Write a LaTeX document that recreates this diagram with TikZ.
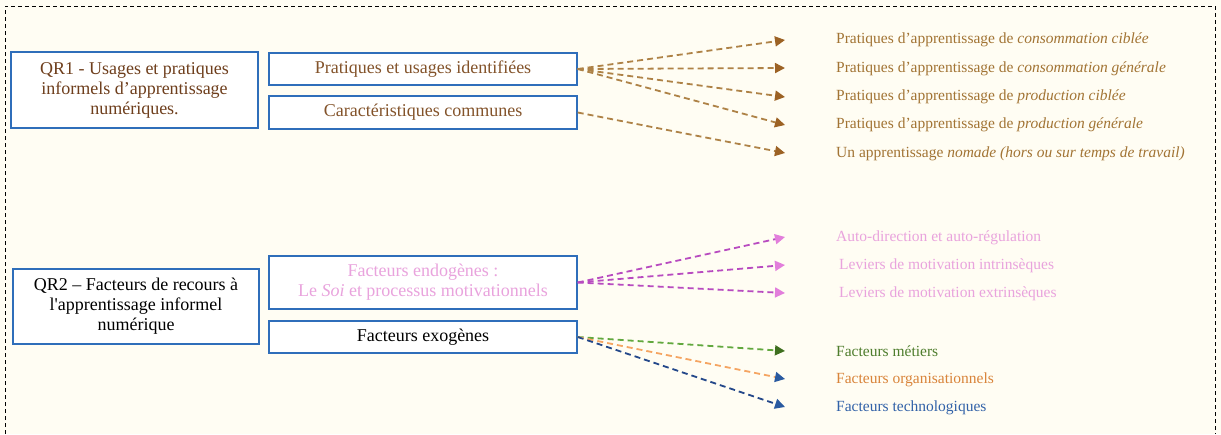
\documentclass[tikz,border=0pt]{standalone}
\usepackage{fontspec}
\setmainfont{Liberation Serif}
\newfontfamily\boxfont{Liberation Serif}
\usetikzlibrary{arrows.meta}
\definecolor{bg}{HTML}{FFFDF3}
\definecolor{boxblue}{HTML}{2F6EBA}
\definecolor{qrbrown}{HTML}{6E3E1C}
\definecolor{subbrown}{HTML}{83532A}
\definecolor{txtbrown}{HTML}{A27434}
\definecolor{linebrown}{HTML}{AE8246}
\definecolor{tipbrown}{HTML}{9C6224}
\definecolor{pinktxt}{HTML}{E9A3DD}
\definecolor{magline}{HTML}{B84BC0}
\definecolor{magtip}{HTML}{E27EDB}
\definecolor{greenline}{HTML}{62A83E}
\definecolor{greentip}{HTML}{3F6F1F}
\definecolor{greentxt}{HTML}{4E7D2C}
\definecolor{orangeline}{HTML}{F5A562}
\definecolor{orangetxt}{HTML}{D9843A}
\definecolor{blueline}{HTML}{24488A}
\definecolor{bluetip}{HTML}{2A5AA0}
\definecolor{bluetxt}{HTML}{3262A8}
\tikzset{
  boxnode/.style={draw=boxblue, line width=1.4pt, fill=white, inner sep=2pt,
    align=center, font=\boxfont\fontsize{18}{20}\selectfont},
  rtext/.style={anchor=west, inner sep=0pt, font=\fontsize{15.5}{18}\selectfont},
  conn/.style={dash pattern=on 6pt off 4pt, line width=1.8pt},
  tipof/.style={-{Triangle[length=10pt,width=10pt,color=#1]}}
}
\begin{document}
\begin{tikzpicture}[x=1pt,y=-1pt]
\useasboundingbox (0,0) rectangle (1221,434);
\fill[bg] (0,0) rectangle (1221,434);
\draw[black, dash pattern=on 4pt off 3pt, line width=0.8pt] (5,434) -- (5,6) -- (1215,6) -- (1215,434);

% left boxes
\node[boxnode, minimum width=247pt, minimum height=76pt, text=qrbrown] (qr1) at (134.5,90)
  {QR1 - Usages et pratiques\\informels d’apprentissage\\numériques.};
\node[boxnode, minimum width=308pt, minimum height=32pt, text=subbrown] (pu) at (423,69)
  {Pratiques et usages identifiées};
\node[boxnode, minimum width=308pt, minimum height=33pt, text=subbrown] (cc) at (423,112.5)
  {Caractéristiques communes};
\node[boxnode, minimum width=246pt, minimum height=75pt, text=black] (qr2) at (136,306.5)
  {QR2 – Facteurs de recours à\\l'apprentissage informel\\numérique};
\node[boxnode, minimum width=308pt, minimum height=53pt, text=pinktxt] (endo) at (423,282.5)
  {Facteurs endogènes :\\Le \textit{Soi} et processus motivationnels};
\node[boxnode, minimum width=308pt, minimum height=32pt, text=black] (exo) at (423,337)
  {Facteurs exogènes};

% right texts
\node[rtext, text=txtbrown] (r1) at (836,40) {Pratiques d’apprentissage de \textit{consommation ciblée}};
\node[rtext, text=txtbrown] (r2) at (836,69) {Pratiques d’apprentissage de \textit{consommation générale}};
\node[rtext, text=txtbrown] (r3) at (836,97) {Pratiques d’apprentissage de \textit{production ciblée}};
\node[rtext, text=txtbrown] (r4) at (836,125) {Pratiques d’apprentissage de \textit{production générale}};
\node[rtext, text=txtbrown] (r5) at (836,154) {Un apprentissage \textit{nomade (hors ou sur temps de travail)}};
\node[rtext, text=pinktxt] (e1) at (836,238) {Auto-direction et auto-régulation};
\node[rtext, text=pinktxt] (e2) at (839,266) {Leviers de motivation intrinsèques};
\node[rtext, text=pinktxt] (e3) at (839,294) {Leviers de motivation extrinsèques};
\node[rtext, text=greentxt] (x1) at (836,351) {Facteurs métiers};
\node[rtext, text=orangetxt] (x2) at (836,380) {Facteurs organisationnels};
\node[rtext, text=bluetxt] (x3) at (836,408) {Facteurs technologiques};

% arrow tips
\coordinate (t1) at (785,40);
\coordinate (t2) at (785,68);
\coordinate (t3) at (785,97);
\coordinate (t4) at (785,125);
\coordinate (t5) at (785,153);
\coordinate (s1) at (785,237);
\coordinate (s2) at (785,265);
\coordinate (s3) at (785,293);
\coordinate (u1) at (785,351);
\coordinate (u2) at (785,379);
\coordinate (u3) at (785,407);

% connectors
\foreach \t in {t1,t2,t3,t4}
  \draw[conn, linebrown, tipof=tipbrown] (pu.east) -- (\t);
\draw[conn, linebrown, tipof=tipbrown] (cc.east) -- (t5);
\foreach \t in {s1,s2,s3}
  \draw[conn, magline, tipof=magtip] (endo.east) -- (\t);
\draw[conn, greenline, tipof=greentip] (exo.east) -- (u1);
\draw[conn, orangeline, tipof=bluetip] (exo.east) -- (u2);
\draw[conn, blueline, tipof=bluetip] (exo.east) -- (u3);
\end{tikzpicture}
\end{document}
